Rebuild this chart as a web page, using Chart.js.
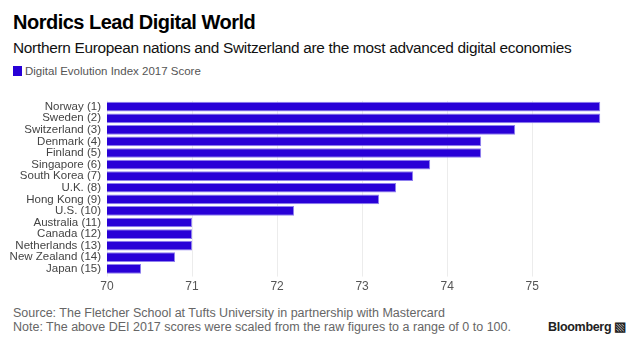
<!DOCTYPE html>
<html lang="en">
<head>
  <meta charset="UTF-8">
  <title>Nordics Lead Digital World</title>
  <script src="https://cdn.jsdelivr.net/npm/chart.js"></script>
  <style>
    body { margin: 0; width: 640px; height: 351px; background: #fff; font-family: "Liberation Sans", Arial, sans-serif; position: relative; overflow: hidden; }
    .t { position: absolute; left: 13px; white-space: nowrap; }
    #title { top: 11px; font-size: 20px; font-weight: bold; color: #000; letter-spacing: -0.5px; }
    #subtitle { top: 39px; font-size: 15.4px; color: #111; letter-spacing: -0.3px; }
    #legend { top: 65px; font-size: 11.5px; color: #555; }
    #legend span { display: inline-block; width: 9px; height: 10px; background: #2800d7; vertical-align: -1px; margin-right: 3px; }
    #source { top: 306px; font-size: 12.5px; color: #666; }
    #note { top: 320px; font-size: 12.5px; color: #666; }
    #brand { position: absolute; left: 548px; top: 319px; font-size: 12.5px; font-weight: bold; color: #222; letter-spacing: -0.3px; }
    #chartBox { position: absolute; left: 0; top: 88px; width: 640px; height: 209px; }
  </style>
</head>
<body>
  <div class="t" id="title">Nordics Lead Digital World</div>
  <div class="t" id="subtitle">Northern European nations and Switzerland are the most advanced digital economies</div>
  <div class="t" id="legend"><span></span>Digital Evolution Index 2017 Score</div>
  <div id="chartBox"><canvas id="deiChart"></canvas></div>
  <div class="t" id="source">Source: The Fletcher School at Tufts University in partnership with Mastercard</div>
  <div class="t" id="note">Note: The above DEI 2017 scores were scaled from the raw figures to a range of 0 to 100.</div>
  <div id="brand">Bloomberg &#9639;</div>

  <script>
    // data
    const countries = [
      "Norway (1)", "Sweden (2)", "Switzerland (3)", "Denmark (4)", "Finland (5)",
      "Singapore (6)", "South Korea (7)", "U.K. (8)", "Hong Kong (9)", "U.S. (10)",
      "Australia (11)", "Canada (12)", "Netherlands (13)", "New Zealand (14)", "Japan (15)"
    ];
    const scores = [75.8, 75.8, 74.8, 74.4, 74.4, 73.8, 73.6, 73.4, 73.2, 72.2, 71.0, 71.0, 71.0, 70.8, 70.4];
    const xTicks = [70, 71, 72, 73, 74, 75];

    const ctx = document.getElementById("deiChart").getContext("2d");
    new Chart(ctx, {
      type: "bar",
      data: {
        labels: countries,
        datasets: [{
          label: "Digital Evolution Index 2017 Score",
          data: scores,
          backgroundColor: "#2800d7",
          borderColor: "#8f80ee",
          borderWidth: 1,
          borderSkipped: false,
          categoryPercentage: 1,
          barPercentage: 0.84
        }]
      },
      options: {
        indexAxis: "y",
        responsive: true,
        maintainAspectRatio: false,
        animation: false,
        layout: { padding: { top: 4, right: 10, bottom: 0, left: 0 } },
        plugins: { legend: { display: false }, tooltip: { enabled: false } },
        scales: {
          x: {
            min: 70,
            max: 76.15,
            afterBuildTicks: (scale) => { scale.ticks = xTicks.map(v => ({ value: v })); },
            grid: { color: "#ececec", drawTicks: true, tickLength: 2 },
            border: { display: false },
            ticks: {
              color: "#555",
              font: { family: "Liberation Sans", size: 12 },
              padding: 3,
              maxRotation: 0
            }
          },
          y: {
            grid: { display: false, drawTicks: false },
            border: { display: false },
            afterFit: (scale) => { scale.width = 107; },
            ticks: {
              autoSkip: false,
              color: "#444",
              font: { family: "Liberation Sans", size: 11.5 },
              padding: 6
            }
          }
        }
      }
    });
  </script>
</body>
</html>
